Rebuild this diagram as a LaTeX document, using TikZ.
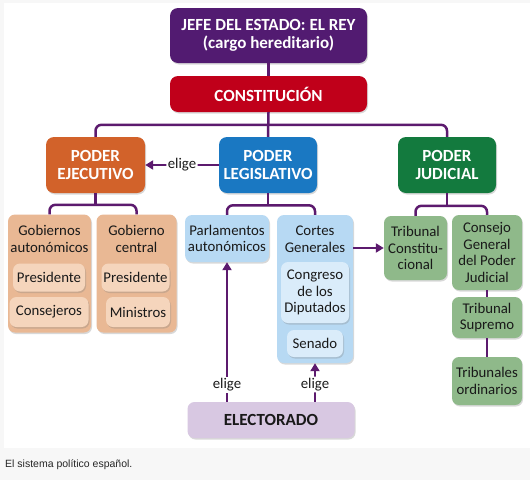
\documentclass[tikz,border=0pt]{standalone}
\usepackage{fontspec}
\setmainfont{Carlito}
\newfontfamily\capfont{Liberation Sans}
\usepackage{xcolor}
\usepackage{tikz}
\usetikzlibrary{arrows.meta,shadows}

\definecolor{rey}{HTML}{521B71}
\definecolor{consti}{HTML}{C0001A}
\definecolor{ejecut}{HTML}{D2622A}
\definecolor{legis}{HTML}{1A78C2}
\definecolor{judic}{HTML}{137A3E}
\definecolor{ejecbg}{HTML}{E9B894}
\definecolor{ejecin}{HTML}{F5D5BC}
\definecolor{legbg}{HTML}{B7D9F3}
\definecolor{legin}{HTML}{DAECFA}
\definecolor{judbg}{HTML}{8FB98A}
\definecolor{elect}{HTML}{D8C8E2}
\definecolor{linea}{HTML}{5C1A6E}
\definecolor{fondo}{HTML}{F7F7F7}

\begin{document}
\begin{tikzpicture}[x=1pt, y=-1pt,
    sombra/.style={drop shadow={shadow xshift=1pt, shadow yshift=-1.5pt, opacity=0.3}},
    poder/.style={rectangle, rounded corners=8pt, sombra, text=white, align=center, inner sep=2pt, font=\bfseries\fontsize{17}{18.5}\selectfont},
    caja/.style={rectangle, rounded corners=7pt, sombra, align=center, inner sep=2pt, text=black!90, font=\fontsize{14.8}{16.5}\selectfont},
    interior/.style={rectangle, rounded corners=7pt, sombra, align=center, inner sep=1pt, text=black!90, font=\fontsize{14.8}{16.5}\selectfont},
    titulo/.style={align=center, inner sep=0pt, text=black!90, font=\fontsize{14.8}{16.5}\selectfont},
    conn/.style={draw=linea, line width=2.5pt, rounded corners=6pt},
    flecha/.style={conn, -{Triangle[length=8pt, width=9pt]}},
    lbl/.style={fill=white, inner sep=1.5pt, text=black!90, font=\fontsize{14.8}{16.5}\selectfont}]

    \useasboundingbox (0,0) rectangle (530,480);
    \fill[fondo] (0,0) rectangle (530,480);
    \fill[white] (4,3) rectangle (530,448);

    \node[poder, fill=rey, minimum width=197pt, minimum height=55pt] (jefe) at (268.5, 35.5) {JEFE DEL ESTADO: EL REY\\(cargo hereditario)};
    \node[poder, fill=consti, minimum width=197pt, minimum height=36pt] (const) at (268.5, 94) {CONSTITUCIÓN};
    \node[poder, fill=ejecut, minimum width=99pt, minimum height=56pt] (ejec) at (95.5, 165) {PODER\\EJECUTIVO};
    \node[poder, fill=legis, minimum width=98pt, minimum height=56pt] (leg) at (268, 165) {PODER\\LEGISLATIVO};
    \node[poder, fill=judic, minimum width=98pt, minimum height=56pt] (jud) at (447, 165) {PODER\\JUDICIAL};

    \node[caja, fill=ejecbg, minimum width=83pt, minimum height=118pt] (gaut) at (49.5, 273.5) {};
    \node[titulo] (gautT) at (49.5, 239) {Gobiernos\\autonómicos};
    \node[interior, fill=ejecin, minimum width=72pt, minimum height=28pt] (pres1) at (49, 277.5) {Presidente};
    \node[interior, fill=ejecin, minimum width=79pt, minimum height=30pt] (consej) at (49, 312) {Consejeros};

    \node[caja, fill=ejecbg, minimum width=80pt, minimum height=118pt] (gcen) at (136.5, 273.5) {};
    \node[titulo] (gcenT) at (136.5, 239) {Gobierno\\central};
    \node[interior, fill=ejecin, minimum width=68pt, minimum height=28pt] (pres2) at (135.5, 277.5) {Presidente};
    \node[interior, fill=ejecin, minimum width=64pt, minimum height=30pt] (minis) at (138, 312) {Ministros};

    \node[caja, fill=legbg, minimum width=84pt, minimum height=47pt] (parl) at (227, 238.5) {Parlamentos\\autonómicos};
    \node[caja, fill=legbg, minimum width=76pt, minimum height=148pt] (cortes) at (315, 289) {};
    \node[titulo] (cortesT) at (315, 239) {Cortes\\Generales};
    \node[interior, fill=legin, minimum width=68pt, minimum height=61pt] (congreso) at (315, 292.5) {Congreso\\de los\\Diputados};
    \node[interior, fill=legin, minimum width=56pt, minimum height=27pt] (senado) at (315, 343.5) {Senado};

    \node[caja, fill=judbg, minimum width=63pt, minimum height=64pt] (tc) at (415.5, 248) {Tribunal\\Constitu-\\cional};
    \node[caja, fill=judbg, minimum width=70pt, minimum height=75pt] (cgpj) at (487, 252.5) {Consejo\\General\\del Poder\\Judicial};
    \node[caja, fill=judbg, minimum width=70pt, minimum height=41pt] (ts) at (487, 317.5) {Tribunal\\Supremo};
    \node[caja, fill=judbg, minimum width=70pt, minimum height=48pt] (tord) at (487, 381) {Tribunales\\ordinarios};

    \node[caja, fill=elect, minimum width=167pt, minimum height=36pt, font=\bfseries\fontsize{17}{18}\selectfont] (elec) at (271, 420) {ELECTORADO};

    \node[anchor=west, inner sep=0pt, text=black!85, font=\capfont\fontsize{10.5}{12}\selectfont] (pie) at (5, 465) {El sistema político español.};

    \draw[conn] (jefe.south) -- (const.north);
    \draw[conn] (const.south) -- (leg.north);
    \draw[conn] (ejec.north) -- ++(0,-12) -| (jud.north);
    \draw[conn] (ejec.south) -- ++(0,12);
    \draw[conn] (gaut.north) -- ++(0,-9.5) -| (gcen.north);
    \draw[conn] (leg.south) -- ++(0,12);
    \draw[conn] (parl.north) -- ++(0,-9.5) -| (cortes.north);
    \draw[conn] (jud.south) -- ++(0,12);
    \draw[conn] (tc.north) -- ++(0,-10) -| (cgpj.north);
    \draw[conn] (cgpj.south) -- (ts.north);
    \draw[conn] (ts.south) -- (tord.north);

    \draw[flecha] (leg.west) -- node[lbl] {elige} (ejec.east);
    \draw[flecha] (cortes.east |- tc) -- (tc.west);
    \draw[flecha] (elec.north -| parl) -- node[lbl, pos=0.12] {elige} (parl.south);
    \draw[flecha] (elec.north -| cortes) -- node[lbl, pos=0.45] {elige} (cortes.south);
\end{tikzpicture}
\end{document}
